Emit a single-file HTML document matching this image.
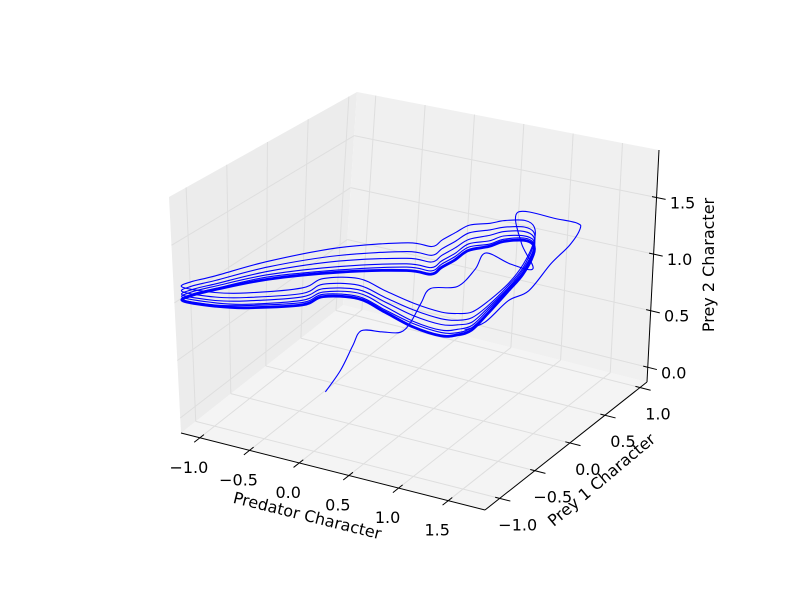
<!DOCTYPE html>
<html><head><meta charset="utf-8"><style>
html,body{margin:0;padding:0;background:#fff;}
svg{display:block;font-family:"DejaVu Sans","Liberation Sans",sans-serif;}
</style></head><body>
<svg id="chart" width="800" height="600" viewBox="0 0 800 600">
<rect width="800" height="600" fill="#fff"/>
<g id="panes"></g>
<g id="grid"></g>
<g id="axes"></g>
<g id="data"></g>
<g id="labels"></g>
</svg>
<script>
// axis ranges and ticks
const xRange = [-1.19, 1.87];
const yRange = [-1.21, 1.10];
const zRange = [-0.13, 1.92];
const xTicks = [-1.0, -0.5, 0.0, 0.5, 1.0, 1.5];
const yTicks = [-1.0, -0.5, 0.0, 0.5, 1.0];
const zTicks = [0.0, 0.5, 1.0, 1.5];
const xTickLabels = ["\u22121.0","\u22120.5","0.0","0.5","1.0","1.5"];
const yTickLabels = ["\u22121.0","\u22120.5","0.0","0.5","1.0"];
const zTickLabels = ["0.0","0.5","1.0","1.5"];

// base limit cycle (predator, prey 1)
const cycleX = [-1.152,-0.868,-0.629,-0.264,-0.199,0.080,0.414,0.763,1.056,1.169,1.227,1.185,1.115,1.058,0.941,0.835,0.711,0.569,0.510,0.396,0.393,0.371,0.363,0.141,-0.343,-0.776,-1.042,-1.149];
const cycleY = [-1.149,-1.110,-1.020,-0.783,-0.591,-0.500,-0.601,-0.712,-0.742,-0.674,-0.556,-0.269,0.114,0.396,0.704,0.854,0.888,0.805,0.688,0.564,0.382,0.228,0.097,0.069,-0.186,-0.528,-0.865,-1.040];
// prey 2 values for each successive loop (outer -> inner)
const loopZ1 = [1.12,1.12,1.13,1.15,1.16,1.18,1.19,1.21,1.21,1.19,1.16,1.11,1.07,1.09,1.12,1.16,1.18,1.19,1.21,1.23,1.25,1.25,1.25,1.25,1.22,1.16,1.12,1.12];
const loopZ2 = [1.08,1.08,1.09,1.10,1.11,1.12,1.13,1.15,1.15,1.13,1.11,1.07,1.05,1.06,1.09,1.11,1.12,1.13,1.15,1.16,1.17,1.17,1.17,1.17,1.15,1.11,1.08,1.08];
const loopZ3 = [1.05,1.05,1.06,1.07,1.07,1.08,1.09,1.10,1.10,1.09,1.07,1.05,1.03,1.04,1.05,1.07,1.08,1.09,1.10,1.10,1.11,1.11,1.11,1.11,1.10,1.07,1.05,1.05];
const loopZ4 = [1.03,1.03,1.03,1.04,1.04,1.05,1.05,1.05,1.05,1.05,1.04,1.03,1.02,1.02,1.03,1.04,1.04,1.05,1.05,1.06,1.06,1.06,1.06,1.06,1.05,1.04,1.03,1.03];
const loopZ5 = [1.01,1.01,1.02,1.02,1.02,1.02,1.02,1.03,1.03,1.02,1.02,1.01,1.01,1.01,1.01,1.02,1.02,1.02,1.02,1.03,1.03,1.03,1.03,1.03,1.02,1.02,1.01,1.01];
const cycleZ = [1,1,1,1,1,1,1,1,1,1,1,1,1,1,1,1,1,1,1,1,1,1,1,1,1,1,1,1];

// initial transient
const transX = [-0.26,-0.138,-0.065,0.076,0.35,0.609,0.70,0.583,0.507,0.686,0.643,0.555,0.861,1.077,0.725,0.369,0.75,0.951,1.032,1.12,1.165,1.268,1.212,1.249,1.174];
const transY = [-0.47,-0.433,-0.367,-0.451,-0.554,-0.664,-0.651,-0.344,-0.108,0.01,0.315,0.582,0.504,0.513,0.84,1.274,1.302,1.303,1.232,0.965,0.643,0.184,-0.022,-0.402,-0.58];
const transZ = [0.08,0.28,0.485,0.69,0.79,0.895,1,1,1,1,1,1,1,1,1,1,1,1,1,1,1,1,1,1,1];

// projection (box corners in screen space)
const B = {"000":[181,433],"100":[485,510],"110":[647,382],"010":[343,305],
           "001":[169,197],"101":[497,278],"111":[659,150],"011":[357,92]};
function P(u,v,w){
  let X=0,Y=0;
  for(const a of [0,1])for(const b of [0,1])for(const c of [0,1]){
    const k=(a?u:1-u)*(b?v:1-v)*(c?w:1-w);
    const p=B[""+a+b+c]; X+=k*p[0]; Y+=k*p[1];
  }
  return [X,Y];
}
const nx=x=>(x-xRange[0])/(xRange[1]-xRange[0]);
const ny=y=>(y-yRange[0])/(yRange[1]-yRange[0]);
const nz=z=>(z-zRange[0])/(zRange[1]-zRange[0]);
function proj(x,y,z){return P(nx(x),ny(y),nz(z));}

const NS="http://www.w3.org/2000/svg";
function mk(tag,parent,attrs){const e=document.createElementNS(NS,tag);for(const k in attrs)e.setAttribute(k,attrs[k]);parent.appendChild(e);return e;}
function pts(arr){return arr.map(p=>p[0].toFixed(1)+","+p[1].toFixed(1)).join(" ");}
// Catmull-Rom smoothed path through projected points
function smooth(p,closed){
  const n=p.length;const g=i=>closed?p[(i+n)%n]:p[Math.max(0,Math.min(n-1,i))];
  let d="M"+p[0][0].toFixed(1)+","+p[0][1].toFixed(1);
  const last=closed?n:n-1;
  for(let i=0;i<last;i++){
    const p0=g(i-1),p1=g(i),p2=g(i+1),p3=g(i+2);
    const c1=[p1[0]+(p2[0]-p0[0])/6,p1[1]+(p2[1]-p0[1])/6];
    const c2=[p2[0]-(p3[0]-p1[0])/6,p2[1]-(p3[1]-p1[1])/6];
    d+=" C"+c1[0].toFixed(1)+","+c1[1].toFixed(1)+" "+c2[0].toFixed(1)+","+c2[1].toFixed(1)+" "+p2[0].toFixed(1)+","+p2[1].toFixed(1);
  }
  return d;
}

// panes
const panes=document.getElementById('panes');
const floor=mk('polygon',panes,{points:pts([P(0,0,0),P(1,0,0),P(1,1,0),P(0,1,0)]),fill:'#f4f4f4'});


const leftWall=mk('polygon',panes,{points:pts([P(0,0,0),P(0,1,0),P(0,1,1),P(0,0,1)]),fill:'#ececec'});


const backWall=mk('polygon',panes,{points:pts([P(0,1,0),P(1,1,0),P(1,1,1),P(0,1,1)]),fill:'#f0f0f0'});



// grid
const grid=document.getElementById('grid');
function gl(a,b,name){const l=mk('line',grid,{x1:a[0],y1:a[1],x2:b[0],y2:b[1],stroke:'#dedede','stroke-width':1});
  
  }
xTicks.forEach(t=>{const u=nx(t);gl(P(u,0,0),P(u,1,0),'floor-grid-x');gl(P(u,1,0),P(u,1,1),'back-grid-x');});
yTicks.forEach(t=>{const v=ny(t);gl(P(0,v,0),P(1,v,0),'floor-grid-y');gl(P(0,v,0),P(0,v,1),'left-grid-y');});
zTicks.forEach(t=>{const w=nz(t);gl(P(0,0,w),P(0,1,w),'left-grid-z');gl(P(0,1,w),P(1,1,w),'back-grid-z');});

// axes + ticks + labels
const axes=document.getElementById('axes');
const labels=document.getElementById('labels');
function al(a,b,name){const l=mk('line',axes,{x1:a[0],y1:a[1],x2:b[0],y2:b[1],stroke:'#000','stroke-width':1});
  
  }
al(P(0,0,0),P(1,0,0),'x-axis-line');
al(P(1,0,0),P(1,1,0),'y-axis-line');
al(P(1,1,0),P(1,1,1),'z-axis-line');
function txt(s,x,y,name,extra){const t=mk('text',labels,Object.assign({x:x,y:y,'font-size':16,fill:'#000','text-anchor':'middle'},extra||{}));t.textContent=s;
  
  return t;}
xTicks.forEach((t,i)=>{const u=nx(t);al(P(u,0.025,0),P(u,-0.035,0),'x-tick');const p=P(u,0,0);txt(xTickLabels[i],p[0]-11,p[1]+35,'x-tick-label');});
yTicks.forEach((t,i)=>{const v=ny(t);al(P(0.985,v,0),P(1.035,v,0),'y-tick');const p=P(1,v,0);txt(yTickLabels[i],p[0]+18,p[1]+32,'y-tick-label');});
zTicks.forEach((t,i)=>{const w=nz(t);al(P(0.985,1,w),P(1.03,1,w),'z-tick');const p=P(1,1,w);txt(zTickLabels[i],p[0]+26,p[1]+11,'z-tick-label');});
txt('Predator Character',306,521,'x-axis-title',{transform:'rotate(14 306 521)'});
txt('Prey 1 Character',605,484,'y-axis-title',{transform:'rotate(-40 605 484)'});
txt('Prey 2 Character',714,265,'z-axis-title',{transform:'rotate(-90 714 265)'});

// data
const dg=document.getElementById('data');
function series(xs,ys,zs,closed,w,name){
  const p=xs.map((x,i)=>proj(x,ys[i],zs[i]));
  const l=mk('path',dg,{d:smooth(p,closed),fill:'none',stroke:'#0000ff','stroke-width':w,'stroke-linejoin':'round'});
  
  
}
series(transX,transY,transZ,false,1.1,'transient-path');
series(cycleX,cycleY,loopZ1,true,1.1,'loop-1');
series(cycleX,cycleY,loopZ2,true,1.1,'loop-2');
series(cycleX,cycleY,loopZ3,true,1.1,'loop-3');
series(cycleX,cycleY,loopZ4,true,1.1,'loop-4');
series(cycleX,cycleY,loopZ5,true,1.1,'loop-5');
series(cycleX,cycleY,cycleZ,true,2.8,'limit-cycle');
</script>
</body></html>
